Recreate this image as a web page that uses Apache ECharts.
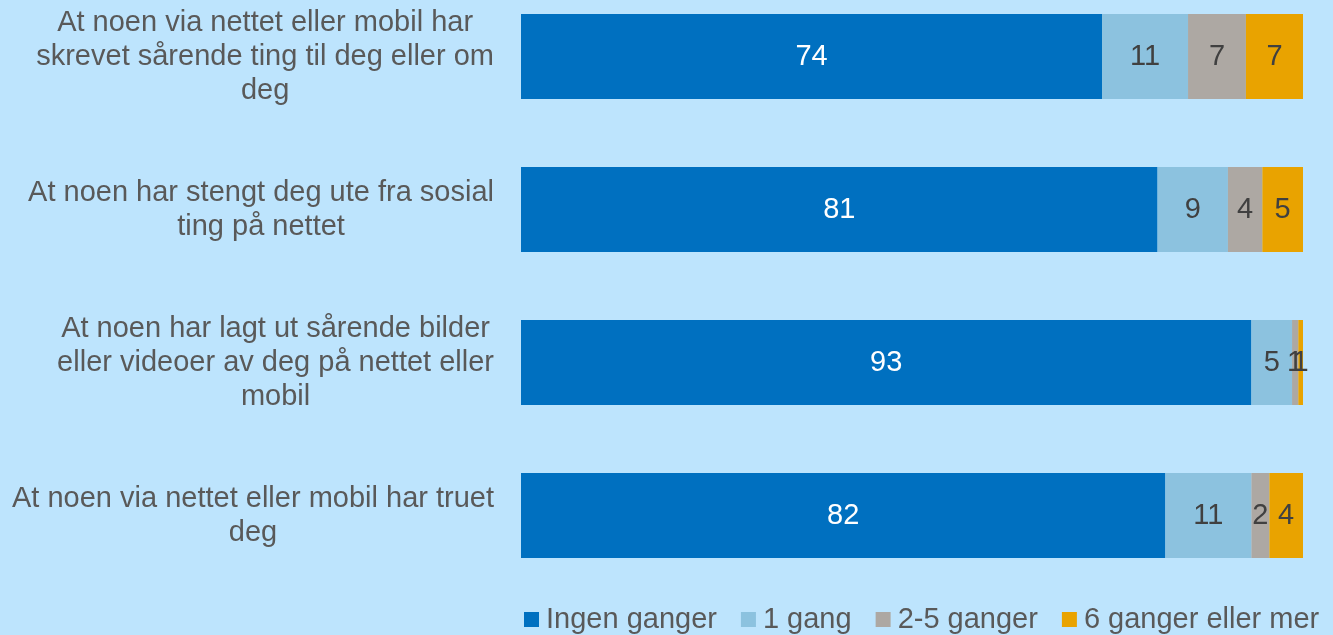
<!DOCTYPE html>
<html>
<head>
<meta charset="utf-8">
<script src="https://cdn.jsdelivr.net/npm/echarts@6/dist/echarts.min.js"></script>
<style>
  html, body { margin: 0; padding: 0; background: #bde4fd; overflow: hidden; }
  /* the plot band starts slightly above the window edge */
  #chart { width: 1333px; height: 655px; margin-top: -20px; }
</style>
</head>
<body>
<div id="chart"></div>
<script>
// Survey items (one bar each, top to bottom), wrapped as printed
const categories = [
  'At noen via nettet eller mobil har\nskrevet sårende ting til deg eller om\ndeg',
  'At noen har stengt deg ute fra sosial\nting på nettet',
  'At noen har lagt ut sårende bilder\neller videoer av deg på nettet eller\nmobil',
  'At noen via nettet eller mobil har truet\ndeg'
];

// Frequency groups (legend order)
const seriesNames = ['Ingen ganger', '1 gang', '2-5 ganger', '6 ganger eller mer'];

// Share of respondents in percent, per frequency group
const ingenGanger  = [74.3, 81.4, 93.4, 82.4];
const enGang       = [11.0,  9.0,  5.2, 11.0];
const toFemGanger  = [ 7.4,  4.4,  0.8,  2.3];
const seksEllerMer = [ 7.3,  5.2,  0.6,  4.3];

const seriesValues = [ingenGanger, enGang, toFemGanger, seksEllerMer];
const colors = ['#0070c0', '#8cc2df', '#ada8a3', '#e9a300'];
const labelColors = ['#ffffff', '#404040', '#404040', '#404040'];

const FONT = '"Liberation Sans", Arial, sans-serif';

const chart = echarts.init(document.getElementById('chart'), null, { renderer: 'canvas' });

chart.setOption({
  backgroundColor: '#bde4fd',
  animation: false,
  grid: { left: 521, right: 30, top: 0, height: 612, containLabel: false },
  xAxis: {
    type: 'value', min: 0, max: 100, show: false
  },
  yAxis: {
    type: 'category',
    data: categories,
    inverse: true,
    axisLine: { show: false },
    axisTick: { show: false },
    splitLine: { show: false },
    axisLabel: {
      margin: 27,
      align: 'right',
      // each line centred inside a right-aligned text block
      formatter: v => v.split('\n').map(line => '{c|' + line + '}').join('\n'),
      rich: {
        c: {
          align: 'center',
          fontFamily: FONT,
          fontSize: 29,
          lineHeight: 34,
          color: '#595959'
        }
      },
      fontFamily: FONT,
      fontSize: 29,
      lineHeight: 34,
      color: '#595959'
    }
  },
  legend: {
    data: seriesNames,
    left: 519,
    top: 620,
    icon: 'rect',
    itemWidth: 15,
    itemHeight: 15,
    itemGap: 24,
    textStyle: { fontFamily: FONT, fontSize: 29, color: '#595959', padding: [0, 0, 0, 2] }
  },
  series: seriesNames.map((name, i) => ({
    name,
    type: 'bar',
    stack: 'total',
    barWidth: 85,
    data: seriesValues[i],
    itemStyle: { color: colors[i] },
    label: {
      show: true,
      position: 'inside',
      fontFamily: FONT,
      fontSize: 29,
      color: labelColors[i],
      formatter: p => Math.round(p.value)
    }
  }))
});
</script>
</body>
</html>
